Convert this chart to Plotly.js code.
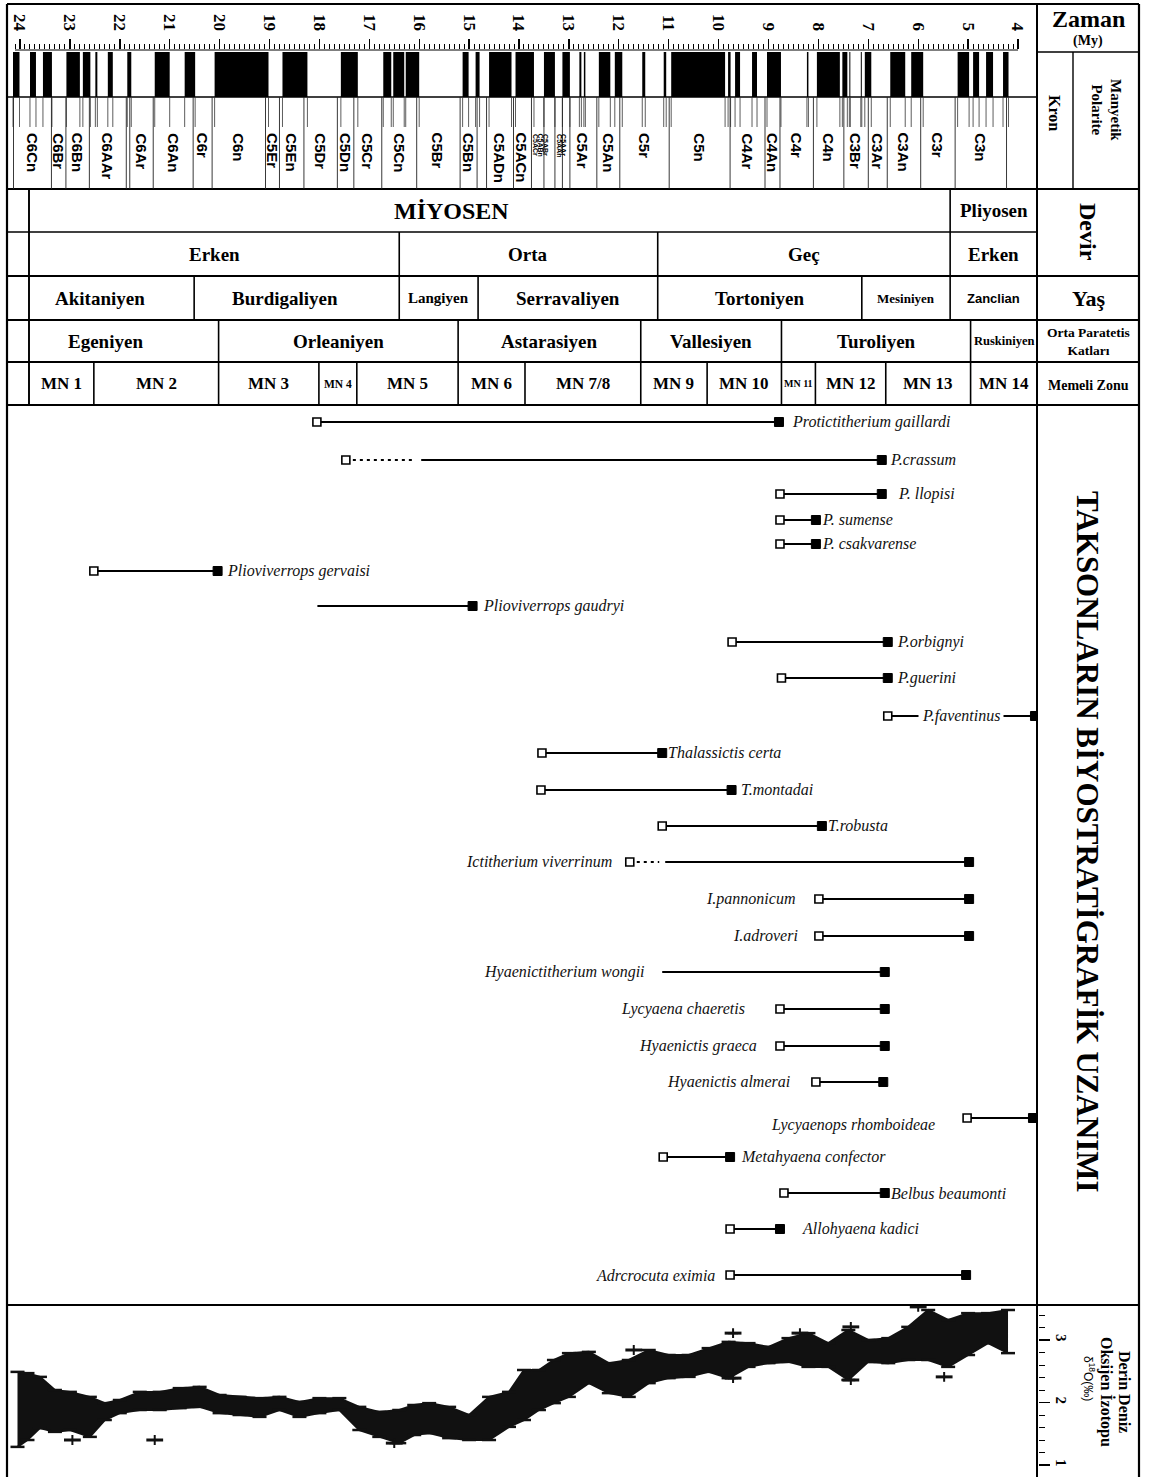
<!DOCTYPE html>
<html><head><meta charset="utf-8">
<script src="https://cdn.plot.ly/plotly-3.0.1.min.js"></script>
<style>html,body{margin:0;padding:0;background:#fff}#chart{width:1149px;height:1477px}</style>
</head><body><div id="chart"></div>
<script>
// ---------------- DATA ----------------
const timeTicks = [24,23,22,21,20,19,18,17,16,15,14,13,12,11,10,9,8,7,6,5,4];

// normal-polarity (black) intervals, My
const normalOld   = [24.14,23.80,23.54,23.07,22.74,22.49,22.24,21.85,21.30,20.70,20.10,18.74,17.57,16.72,16.52,16.27,15.13,14.87,14.60,14.07,13.50,13.13,12.79,12.70,12.40,12.08,11.53,11.10,10.95,9.81,9.67,9.33,9.03,8.23,8.03,7.52,7.38,7.15,7.07,6.56,6.14,5.21,4.90,4.64,4.30];
const normalYoung = [24.01,23.68,23.36,22.80,22.59,22.45,22.14,21.77,21.00,20.49,19.02,18.24,17.23,16.56,16.30,16.00,15.01,14.79,14.15,13.70,13.28,12.98,12.75,12.67,12.17,11.93,11.47,11.05,9.87,9.76,9.57,9.23,8.75,8.20,7.57,7.42,7.36,7.13,6.94,6.26,5.90,4.98,4.78,4.50,4.19];

// chrons
const chronNames = ['C6Cn','C6Br','C6Bn','C6AAr','C6Ar','C6An','C6r','C6n','C5Er','C5En','C5Dr','C5Dn','C5Cr','C5Cn','C5Br','C5Bn','C5ADn','C5ACn','C5Ar','C5An','C5r','C5n','C4Ar','C4An','C4r','C4n','C3Br','C3Ar','C3An','C3r','C3n'];
const chronOld   = [24.13,23.37,23.08,22.61,21.80,21.33,20.53,20.15,19.08,18.80,18.31,17.64,17.31,16.75,16.05,15.18,14.65,14.11,12.98,12.44,11.98,10.99,9.77,9.07,8.77,8.10,7.49,7.00,6.62,5.95,5.26];
const chronYoung = [23.37,23.08,22.61,21.87,21.33,20.53,20.15,19.08,18.80,18.31,17.64,17.31,16.75,16.05,15.18,14.84,14.11,13.75,12.44,11.98,10.99,9.77,9.07,8.77,8.10,7.49,7.00,6.62,5.95,5.26,4.23];
const smallChronNames = ['C5ACr','C5ABn','C5ABr','C5AAn','C5AAr'];
const smallChronAge   = [13.66,13.56,13.46,13.19,13.10];
const smallChronBounds = [13.50,13.28,13.13];

// stratigraphic rows
const epochNames = ['MİYOSEN','Pliyosen'];
const epochBounds = [23.82,5.36,3.62];
const subepochNames = ['Erken','Orta','Geç','Erken'];
const subepochBounds = [23.82,16.40,11.22,5.36,3.62];
const stageNames = ['Akitaniyen','Burdigaliyen','Langiyen','Serravaliyen','Tortoniyen','Mesiniyen','Zanclian'];
const stageBounds = [23.82,20.51,16.40,14.82,11.22,7.13,5.36,3.62];
const paratethysNames = ['Egeniyen','Orleaniyen','Astarasiyen','Vallesiyen','Turoliyen','Ruskiniyen'];
const paratethysBounds = [23.82,20.02,15.22,11.56,8.74,4.95,3.62];
const mnNames = ['MN 1','MN 2','MN 3','MN 4','MN 5','MN 6','MN 7/8','MN 9','MN 10','MN 11','MN 12','MN 13','MN 14'];
const mnBounds = [23.82,22.52,20.02,18.01,17.25,15.22,13.88,11.56,10.23,8.74,8.06,6.65,4.95,3.62];

// taxa ranges (My)
const taxaNames = ['Protictitherium gaillardi','P.crassum','P. llopisi','P. sumense','P. csakvarense','Plioviverrops gervaisi','Plioviverrops gaudryi','P.orbignyi','P.guerini','P.faventinus','Thalassictis certa','T.montadai','T.robusta','Ictitherium viverrinum','I.pannonicum','I.adroveri','Hyaenictitherium wongii','Lycyaena chaeretis','Hyaenictis graeca','Hyaenictis almerai','Lycyaenops rhomboideae','Metahyaena confector','Belbus beaumonti','Allohyaena kadici','Adrcrocuta eximia'];
const taxaFirst = [18.05,17.47,8.77,8.77,8.77,22.52,18.04,9.73,8.74,6.61,13.54,13.56,11.13,11.78,7.99,7.99,11.13,8.77,8.77,8.05,5.02,11.11,8.69,9.77,9.77];
const taxaLast  = [8.79,6.73,6.73,8.05,8.05,20.04,14.93,6.61,6.61,3.66,11.13,9.74,7.93,4.98,4.98,4.98,6.67,6.67,6.67,6.70,3.70,9.77,6.67,8.77,5.04];
const taxaFirstMarked = [1,1,1,1,1,1,0,1,1,1,1,1,1,1,1,1,0,1,1,1,1,1,1,1,1];
const taxaDottedTo  = [null,16.12,null,null,null,null,null,null,null,null,null,null,null,11.19,null,null,null,null,null,null,null,null,null,null,null];
const taxaSolidFrom = [null,15.96,null,null,null,null,null,null,null,null,null,null,null,11.07,null,null,null,null,null,null,null,null,null,null,null];
const taxaLabelSide = ['R','R','R','R','R','R','R','R','R','M','R','R','R','L','L','L','L','L','L','L','L','R','R','R','L'];

// deep-sea oxygen isotope envelope (δ18O ‰)
const isoAge  = [24.05,23.85,23.6,23.3,23.0,22.6,22.3,22.0,21.6,21.2,20.8,20.4,20.0,19.6,19.2,18.8,18.4,18.0,17.6,17.2,16.8,16.4,16.1,15.8,15.4,15.0,14.6,14.2,13.9,13.6,13.3,13.0,12.6,12.2,11.8,11.4,11.0,10.6,10.2,9.8,9.4,9.0,8.6,8.2,7.8,7.4,7.0,6.6,6.2,5.8,5.4,5.0,4.6,4.2];
const isoHigh = [2.49,2.47,2.41,2.20,2.17,2.09,1.99,2.04,2.17,2.17,2.23,2.25,2.12,2.09,2.07,2.09,2.01,2.07,2.07,1.93,1.85,1.88,1.96,1.99,1.93,1.80,2.09,2.17,2.52,2.52,2.68,2.79,2.81,2.63,2.68,2.84,2.76,2.76,2.87,2.97,2.95,2.89,3.03,3.11,2.95,3.16,3.00,3.03,3.21,3.48,3.32,3.43,3.43,3.48];
const isoLow  = [1.29,1.40,1.59,1.53,1.56,1.45,1.72,1.83,1.88,1.88,1.91,1.93,1.83,1.80,1.77,1.88,1.77,1.83,1.88,1.56,1.45,1.35,1.48,1.51,1.43,1.40,1.40,1.61,1.72,1.88,1.99,2.09,2.31,2.15,2.09,2.31,2.39,2.41,2.49,2.39,2.57,2.63,2.65,2.57,2.57,2.36,2.65,2.63,2.68,2.68,2.57,2.76,2.95,2.79];
const isoOutAge = [22.95,21.3,16.5,11.7,9.71,9.71,8.37,7.35,7.35,6.0,5.48];
const isoOutVal = [1.40,1.40,1.35,2.84,3.11,2.39,3.11,3.21,2.36,3.53,2.41];

// ---------------- LAYOUT HELPERS (positions only) ----------------
const W = 1149, H = 1477;
const SERIF = 'Liberation Serif, Times New Roman, serif';
const SANS = 'Liberation Sans, Arial, sans-serif';
const PX = p => p / W;
const PY = p => 1 - p / H;
const AGE = p => 24 - (p - 20) / 49.9;          // pixel column -> axis value (frame placement)
const laneOf = p => (p - 422) / 36.5;            // pixel row -> taxa lane
const taxaRowPx = [422,460,494,520,544,571,606,642,678,716,753,790,826,862,899,936,972,1009,1046,1082,1118,1157,1193,1229,1275];
const labelGap = [13,8,16,6,6,9,10,9,9,0,6,9,6,18,24,21,17,35,23,26,32,11,6,22,15];
const labelDy  = taxaNames.map((n,i)=> i===20 ? -7 : 0);

const shapes = [], annotations = [];
function pline(x0,y0,x1,y1,w){shapes.push({type:'line',xref:'paper',yref:'paper',x0:PX(x0),x1:PX(x1),y0:PY(y0),y1:PY(y1),line:{color:'#000',width:w}});}
function aline(t,y0,y1,w,c){shapes.push({type:'line',xref:'x',yref:'paper',x0:t,x1:t,y0:PY(y0),y1:PY(y1),line:{color:c||'#000',width:w}});}
function ann(o){annotations.push(Object.assign({showarrow:false,xanchor:'center',yanchor:'middle'},o));}

// frame
pline(7,4,1139,4,2.2); pline(7,4,7,1477,2.2); pline(1139,4,1139,1477,2.2); pline(1037,4,1037,1477,2);
pline(1037,52,1139,52,1.6); pline(7,97,1037,97,1.4); pline(1073,52,1073,189,1.4);
pline(7,189,1139,189,2); pline(7,232,1037,232,1.6);
[276,320,362,405].forEach(y=>pline(7,y,1139,y,2));
pline(7,1305,1139,1305,2); pline(29,189,29,405,1.6);
// ruler baseline
shapes.push({type:'line',xref:'x',yref:'paper',x0:24.1,x1:4.0,y0:PY(50),y1:PY(50),line:{color:'#000',width:1}});

// polarity bars
normalOld.forEach((o,i)=>shapes.push({type:'rect',xref:'x',yref:'paper',x0:o,x1:normalYoung[i],y0:PY(97),y1:PY(52),fillcolor:'#000',line:{width:0}}));
// subchron marks
normalOld.concat(normalYoung).forEach(t=>aline(t,97,127,0.8,'#333'));
// chron boundaries
const chronB = Array.from(new Set(chronOld.concat(chronYoung).concat(smallChronBounds)));
chronB.forEach(t=>aline(t,97,189,0.9,'#222'));
chronNames.forEach((n,i)=>ann({xref:'x',yref:'paper',x:(chronOld[i]+chronYoung[i])/2,y:PY(131),yanchor:'top',textangle:90,text:n,font:{family:SANS,size:15,weight:'bold',color:'#000'}}));
smallChronNames.forEach((n,i)=>ann({xref:'x',yref:'paper',x:smallChronAge[i],y:PY(132),yanchor:'top',textangle:90,text:n,font:{family:SANS,size:7,weight:'bold',color:'#000'}}));

// stratigraphic rows
const sizeOf = {'MİYOSEN':24,'Langiyen':15,'Mesiniyen':13,'Zanclian':13,'Ruskiniyen':12.5,'MN 4':11.5,'MN 11':10};
const nudge = {'MİYOSEN':-38,'Akitaniyen':-12,'Burdigaliyen':-12,'Egeniyen':-18};
function stratRow(names,bounds,top,bot,defSize){
  bounds.forEach(t=>aline(t,top,bot,1.6));
  names.forEach((n,i)=>{
    const sans = n==='Zanclian';
    ann({xref:'x',yref:'paper',x:(bounds[i]+bounds[i+1])/2,y:PY((top+bot)/2),xshift:nudge[n]||0,text:n,
      font:{family:sans?SANS:SERIF,size:sizeOf[n]||defSize,weight:'bold',color:'#000'}});
  });
}
stratRow(epochNames,epochBounds,189,232,19);
stratRow(subepochNames,subepochBounds,232,276,19);
stratRow(stageNames,stageBounds,276,320,19);
stratRow(paratethysNames,paratethysBounds,320,362,19);
stratRow(mnNames,mnBounds,362,405,17);

// right panel texts
const RC = 1088;
ann({xref:'paper',yref:'paper',x:PX(RC),y:PY(19),text:'Zaman',font:{family:SERIF,size:24,weight:'bold',color:'#000'}});
ann({xref:'paper',yref:'paper',x:PX(RC),y:PY(41),text:'(My)',font:{family:SERIF,size:14,weight:'bold',color:'#000'}});
ann({xref:'paper',yref:'paper',x:PX(1055),y:PY(113),textangle:90,text:'Kron',font:{family:SERIF,size:16,weight:'bold',color:'#000'}});
ann({xref:'paper',yref:'paper',x:PX(1106),y:PY(110),textangle:90,text:'Manyetik<br>Polarite',font:{family:SERIF,size:15,weight:'bold',color:'#000'}});
ann({xref:'paper',yref:'paper',x:PX(RC),y:PY(232),textangle:90,text:'Devir',font:{family:SERIF,size:24,weight:'bold',color:'#000'}});
ann({xref:'paper',yref:'paper',x:PX(RC),y:PY(298),text:'Yaş',font:{family:SERIF,size:22,weight:'bold',color:'#000'}});
ann({xref:'paper',yref:'paper',x:PX(RC),y:PY(341),text:'Orta Paratetis<br>Katları',font:{family:SERIF,size:13.5,weight:'bold',color:'#000'}});
ann({xref:'paper',yref:'paper',x:PX(RC),y:PY(385),text:'Memeli Zonu',font:{family:SERIF,size:14,weight:'bold',color:'#000'}});
ann({xref:'paper',yref:'paper',x:PX(RC),y:PY(842),textangle:90,text:'TAKSONLARIN BİYOSTRATİGRAFİK UZANIMI',font:{family:SERIF,size:31,weight:'bold',color:'#000'}});
ann({xref:'paper',yref:'paper',x:PX(1125),y:PY(1392),textangle:90,text:'Derin Deniz',font:{family:SERIF,size:16,weight:'bold',color:'#000'}});
ann({xref:'paper',yref:'paper',x:PX(1107),y:PY(1392),textangle:90,text:'Oksijen İzotopu',font:{family:SERIF,size:16,weight:'bold',color:'#000'}});
ann({xref:'paper',yref:'paper',x:PX(1089),y:PY(1378),textangle:90,text:'δ<sup>18</sup>O(‰)',font:{family:SANS,size:12,color:'#000'}});

// taxa labels
taxaNames.forEach((n,i)=>{
  const lane = laneOf(taxaRowPx[i]);
  const side = taxaLabelSide[i];
  const o = {xref:'x',yref:'y2',y:lane,yshift:labelDy[i],text:n,font:{family:SERIF,size:16,style:'italic',color:'#111'}};
  if(side==='R'){o.x=taxaLast[i];o.xanchor='left';o.xshift=labelGap[i]-2;}
  else if(side==='L'){o.x=taxaFirst[i];o.xanchor='right';o.xshift=-labelGap[i]+2;}
  else {o.x=(taxaFirst[i]+taxaLast[i])/2;o.bgcolor='#fff';o.borderpad=3;}
  ann(o);
});

// ---------------- TRACES ----------------
const solidX=[],solidY=[],dotX=[],dotY=[],openX=[],openY=[],fillX=[],fillY=[];
taxaNames.forEach((n,i)=>{
  const lane = laneOf(taxaRowPx[i]);
  const s = taxaSolidFrom[i]!==null ? taxaSolidFrom[i] : taxaFirst[i];
  solidX.push(s,taxaLast[i],null); solidY.push(lane,lane,null);
  if(taxaDottedTo[i]!==null){dotX.push(taxaFirst[i],taxaDottedTo[i],null);dotY.push(lane,lane,null);}
  if(taxaFirstMarked[i]){openX.push(taxaFirst[i]);openY.push(lane);}
  fillX.push(taxaLast[i]); fillY.push(lane);
});

const traces = [
  {x:[timeTicks[0]],y:[0.5],xaxis:'x',yaxis:'y',mode:'markers',marker:{opacity:0},hoverinfo:'skip'},
  {x:solidX,y:solidY,xaxis:'x',yaxis:'y2',mode:'lines',line:{color:'#000',width:1.8},hoverinfo:'skip'},
  {x:dotX,y:dotY,xaxis:'x',yaxis:'y2',mode:'lines',line:{color:'#000',width:1.8,dash:'3px,4px'},hoverinfo:'skip'},
  {x:openX,y:openY,xaxis:'x',yaxis:'y2',mode:'markers',marker:{symbol:'square',size:8,color:'#fff',line:{color:'#000',width:1.6}},hoverinfo:'skip'},
  {x:fillX,y:fillY,xaxis:'x',yaxis:'y2',mode:'markers',marker:{symbol:'square',size:9,color:'#000',line:{color:'#000',width:1}},hoverinfo:'skip'},
  {x:isoAge,y:isoLow,xaxis:'x',yaxis:'y3',mode:'lines',line:{color:'#111',width:2},hoverinfo:'skip'},
  {x:isoAge,y:isoHigh,xaxis:'x',yaxis:'y3',mode:'lines',fill:'tonexty',fillcolor:'#111',line:{color:'#111',width:2},hoverinfo:'skip'},
  {x:isoAge.concat(isoAge),y:isoHigh.concat(isoLow),xaxis:'x',yaxis:'y3',mode:'markers',marker:{symbol:'line-ew',size:10,line:{color:'#111',width:2.5}},hoverinfo:'skip'},
  {x:isoOutAge,y:isoOutVal,xaxis:'x',yaxis:'y3',mode:'markers',marker:{symbol:'cross-thin',size:7,line:{color:'#111',width:2}},hoverinfo:'skip'},
  {x:isoOutAge,y:isoOutVal,xaxis:'x',yaxis:'y3',mode:'markers',marker:{symbol:'line-ew',size:12,line:{color:'#111',width:3}},hoverinfo:'skip'}
];

const minorTicks=[]; for(let k=241;k>=40;k--){ if(k%10) minorTicks.push(k/10); }
const isoMinor=[]; for(let k=5;k<=17;k++){ if(k%5) isoMinor.push(k/5); }

const layout = {
  width:W,height:H,margin:{l:0,r:0,t:0,b:0},paper_bgcolor:'#fff',plot_bgcolor:'rgba(0,0,0,0)',showlegend:false,
  xaxis:{domain:[PX(4),PX(1038)],range:[AGE(4),AGE(1038)],side:'top',anchor:'y',tickmode:'array',tickvals:timeTicks,ticktext:timeTicks.map(String),
    ticks:'outside',ticklen:10,tickwidth:1.4,tickcolor:'#000',tickangle:90,ticklabelstandoff:2,
    tickfont:{family:SERIF,size:17,weight:'bold',color:'#000'},showgrid:false,zeroline:false,showline:false,fixedrange:true,
    minor:{tickmode:'array',tickvals:minorTicks,ticks:'outside',ticklen:5,tickwidth:1,tickcolor:'#000',showgrid:false}},
  yaxis:{domain:[PY(97),PY(50)],range:[0,1],visible:false,fixedrange:true},
  yaxis2:{domain:[PY(1305),PY(405)],range:[laneOf(1305),laneOf(405)],visible:false,fixedrange:true,anchor:'x'},
  yaxis3:{domain:[0,PY(1305)],range:[3-(1477-1340)/62.5,3-(1305-1340)/62.5],anchor:'x',side:'right',tickmode:'array',tickvals:[1,2,3],
    ticks:'outside',ticklen:11,tickwidth:1.4,tickcolor:'#000',tickangle:90,tickfont:{family:SERIF,size:15,weight:'bold',color:'#000'},
    showgrid:false,zeroline:false,showline:false,fixedrange:true,
    minor:{tickmode:'array',tickvals:isoMinor,ticks:'outside',ticklen:6,tickwidth:1,tickcolor:'#000',showgrid:false}},
  shapes:shapes,annotations:annotations
};
Plotly.newPlot('chart',traces,layout,{displayModeBar:false,staticPlot:true});
</script></body></html>
